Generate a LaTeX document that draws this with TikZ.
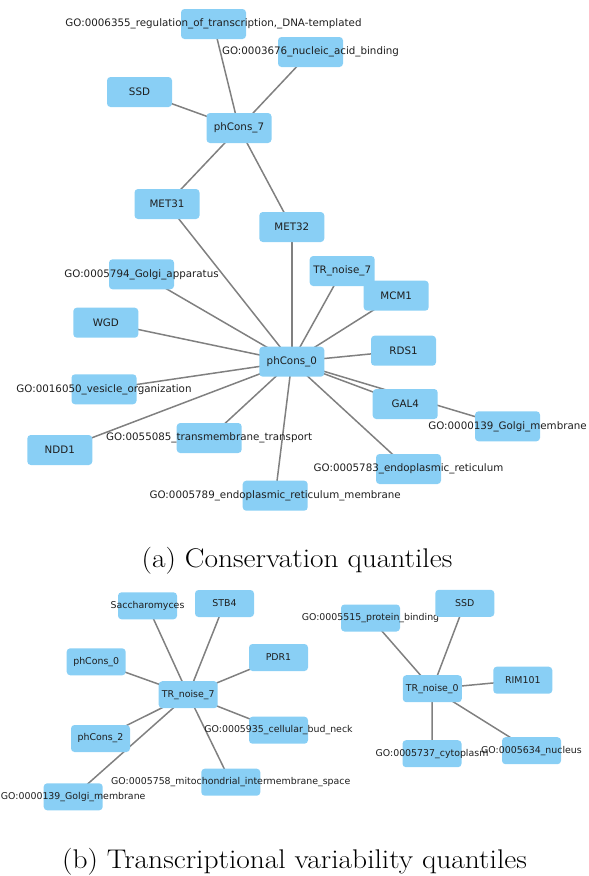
\documentclass[tikz,border=0pt]{standalone}
\usepackage{fontspec}
\usepackage{xcolor}
\usepackage{graphicx}
\usepackage{tikz}
\usetikzlibrary{backgrounds}
\newfontfamily\netfont{DejaVu Sans}
\definecolor{netblue}{HTML}{89CFF5}
\definecolor{netgray}{HTML}{808080}
\definecolor{nettext}{HTML}{1E1E1E}
\newcommand{\golbl}[1]{\makebox[0pt]{#1}}
\newcommand{\capwide}[1]{\scalebox{1.09}[1]{#1}}

\begin{document}
\begin{tikzpicture}[
    x=1pt, y=-1pt,
    gbox/.style={rectangle, rounded corners=3.5pt, fill=netblue, minimum width=65pt, minimum height=30pt, inner sep=0pt, text=nettext, font=\netfont\fontsize{10.3}{12}\selectfont},
    sbox/.style={gbox, minimum width=59pt, minimum height=27pt, font=\netfont\fontsize{9.4}{11}\selectfont},
    edge/.style={draw=netgray, line width=1.5pt},
    caption/.style={font=\fontsize{27}{30}\selectfont, inner sep=0pt, anchor=base}
]
    \useasboundingbox (0,0) rectangle (589,876);

    % Nodes (a)
    \node (go6355) [gbox] at (213.5,24) {\golbl{GO:0006355\_regulation\_of\_transcription,\_DNA-templated}};
    \node (go3676) [gbox] at (310.5,52) {\golbl{GO:0003676\_nucleic\_acid\_binding}};
    \node (ssd) [gbox] at (139.5,92) {SSD};
    \node (p7) [gbox] at (239,128) {phCons\_7};
    \node (met31) [gbox] at (167,204) {MET31};
    \node (met32) [gbox] at (291.8,227) {MET32};
    \node (go5794) [gbox] at (141.5,274.3) {\golbl{GO:0005794\_Golgi\_apparatus}};
    \node (trn7) [gbox] at (342.2,271) {TR\_noise\_7};
    \node (mcm1) [gbox] at (396.2,295.7) {MCM1};
    \node (wgd) [gbox] at (105.8,322.7) {WGD};
    \node (rds1) [gbox] at (403.5,350.7) {RDS1};
    \node (p0) [gbox] at (291.8,361.7) {phCons\_0};
    \node (go16050) [gbox] at (104,389.3) {\golbl{GO:0016050\_vesicle\_organization}};
    \node (gal4) [gbox] at (405.2,404) {GAL4};
    \node (go139) [gbox] at (507.5,426.3) {\golbl{GO:0000139\_Golgi\_membrane}};
    \node (go55085) [gbox] at (209.2,438) {\golbl{GO:0055085\_transmembrane\_transport}};
    \node (ndd1) [gbox] at (59.8,450) {NDD1};
    \node (go5783) [gbox] at (408.5,469) {\golbl{GO:0005783\_endoplasmic\_reticulum}};
    \node (go5789) [gbox] at (275.2,495.7) {\golbl{GO:0005789\_endoplasmic\_reticulum\_membrane}};

    \node (capa) [caption] at (297,567) {\capwide{(a) Conservation quantiles}};

    % Nodes (b)
    \node (bsacch) [sbox] at (147.5,605.8) {\golbl{Saccharomyces}};
    \node (bstb4) [sbox] at (224.5,603.5) {STB4};
    \node (bpdr1) [sbox] at (278.5,657.5) {PDR1};
    \node (bph0) [sbox] at (96.2,661.8) {phCons\_0};
    \node (btrn7) [sbox] at (188.2,694.7) {TR\_noise\_7};
    \node (bgo5935) [sbox] at (278.5,730.2) {\golbl{GO:0005935\_cellular\_bud\_neck}};
    \node (bph2) [sbox] at (100.5,738.5) {phCons\_2};
    \node (bgo5758) [sbox] at (230.8,782.2) {\golbl{GO:0005758\_mitochondrial\_intermembrane\_space}};
    \node (bgo139) [sbox] at (73.2,796.8) {\golbl{GO:0000139\_Golgi\_membrane}};

    \node (bgo5515) [sbox] at (370.5,618) {\golbl{GO:0005515\_protein\_binding}};
    \node (bssd) [sbox] at (464.8,603.3) {SSD};
    \node (btrn0) [sbox] at (432.3,688.7) {TR\_noise\_0};
    \node (brim) [sbox] at (522.8,680.2) {RIM101};
    \node (bgo5737) [sbox] at (432,753.7) {\golbl{GO:0005737\_cytoplasm}};
    \node (bgo5634) [sbox] at (531.5,750.7) {\golbl{GO:0005634\_nucleus}};

    \node (capb) [caption] at (294.5,868) {\capwide{(b) Transcriptional variability quantiles}};

    % Connectors
    \begin{scope}[on background layer]
        \draw [edge] (p7.center) -- (go6355.center);
        \draw [edge] (p7.center) -- (go3676.center);
        \draw [edge] (p7.center) -- (ssd.center);
        \draw [edge] (p7.center) -- (met31.center);
        \draw [edge] (p7.center) -- (met32.center);
        \draw [edge] (p0.center) -- (met31.center);
        \draw [edge] (p0.center) -- (met32.center);
        \draw [edge] (p0.center) -- (go5794.center);
        \draw [edge] (p0.center) -- (trn7.center);
        \draw [edge] (p0.center) -- (mcm1.center);
        \draw [edge] (p0.center) -- (wgd.center);
        \draw [edge] (p0.center) -- (rds1.center);
        \draw [edge] (p0.center) -- (go16050.center);
        \draw [edge] (p0.center) -- (gal4.center);
        \draw [edge] (p0.center) -- (go139.center);
        \draw [edge] (p0.center) -- (go55085.center);
        \draw [edge] (p0.center) -- (ndd1.center);
        \draw [edge] (p0.center) -- (go5783.center);
        \draw [edge] (p0.center) -- (go5789.center);

        \draw [edge] (btrn7.center) -- (bsacch.center);
        \draw [edge] (btrn7.center) -- (bstb4.center);
        \draw [edge] (btrn7.center) -- (bpdr1.center);
        \draw [edge] (btrn7.center) -- (bph0.center);
        \draw [edge] (btrn7.center) -- (bgo5935.center);
        \draw [edge] (btrn7.center) -- (bph2.center);
        \draw [edge] (btrn7.center) -- (bgo5758.center);
        \draw [edge] (btrn7.center) -- (bgo139.center);
        \draw [edge] (btrn0.center) -- (bgo5515.center);
        \draw [edge] (btrn0.center) -- (bssd.center);
        \draw [edge] (btrn0.center) -- (brim.center);
        \draw [edge] (btrn0.center) -- (bgo5737.center);
        \draw [edge] (btrn0.center) -- (bgo5634.center);
    \end{scope}
\end{tikzpicture}
\end{document}
